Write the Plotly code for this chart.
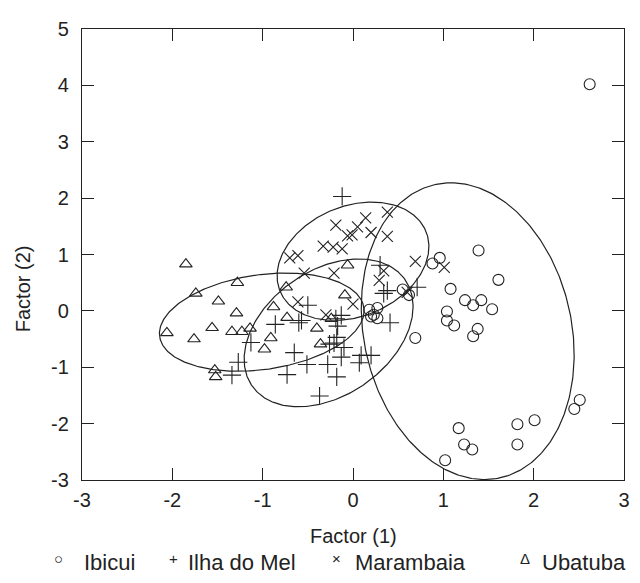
import numpy as np
import plotly.graph_objects as go

groups = ["Ibicui", "Ilha do Mel", "Marambaia", "Ubatuba"]
legend_glyphs = ["\u25CB", "+", "\u00D7", "\u0394"]

ibicui_x = [2.62, 1.39, 0.96, 0.88, 1.61, 1.08, 1.24, 1.33, 1.42, 1.54, 1.04, 1.04, 1.12, 1.38, 1.33, 0.69,
            0.55, 0.62, 0.18, 0.27, 0.23, 0.27, 0.20, 2.51, 2.45, 2.01, 1.82, 1.82, 1.17, 1.23, 1.32, 1.02]
ibicui_y = [4.02, 1.07, 0.94, 0.84, 0.55, 0.39, 0.19, 0.10, 0.19, 0.03, -0.01, -0.17, -0.26, -0.32, -0.45, -0.48,
            0.38, 0.28, 0.02, 0.05, -0.07, -0.13, -0.10, -1.58, -1.74, -1.94, -2.01, -2.37, -2.08, -2.37, -2.46, -2.65]

ilha_x = [-0.12, 0.30, 0.38, 0.34, 0.71, 0.41, -0.50, -0.13, -0.17, -0.18, -0.26, -0.10, -0.13, 0.09, 0.20,
          0.07, -0.28, -0.18, -0.37, -0.51, -0.65, -0.73, -0.86, -0.57, -0.60, -1.13, -1.27, -1.34, -0.21, -0.19]
ilha_y = [2.03, 0.81, 0.36, 0.31, 0.42, -0.21, 0.10, -0.08, -0.27, -0.47, -0.59, -0.65, -0.82, -0.79, -0.79,
          -0.92, -0.95, -1.17, -1.51, -0.95, -0.74, -1.13, -0.24, -0.17, -0.21, -0.56, -0.91, -1.14, -0.57, -0.14]

maramb_x = [0.14, 0.38, -0.19, 0.05, 0.20, -0.06, 0.38, -0.33, -0.22, -0.12, -0.70, -0.61, 0.69, 0.34, 0.29,
            -0.21, -0.54, -0.61, -0.30, -0.01, 1.01, 0.00, 0.60]
maramb_y = [1.65, 1.75, 1.52, 1.49, 1.39, 1.33, 1.32, 1.15, 1.13, 1.10, 0.94, 0.98, 0.88, 0.71, 0.54,
            0.67, 0.67, 0.16, -0.07, 1.35, 0.77, 0.12, 0.33]

ubat_x = [-1.85, -1.28, -1.74, -1.49, -1.29, -2.06, -1.76, -1.56, -1.34, -1.23, -1.14, -1.53, -1.52, -0.98,
          -0.91, -0.88, -0.74, -0.73, -0.40, -0.36, -0.06, -0.09, -0.24]
ubat_y = [0.83, 0.50, 0.31, 0.17, -0.04, -0.39, -0.50, -0.30, -0.37, -0.37, -0.31, -1.05, -1.17, -0.68,
          -0.48, 0.07, 0.42, -0.12, -0.31, -0.59, 0.81, 0.28, -0.14]

# ellipse parameters (centre, semi-axes, rotation in degrees) per group
ell_cx = [1.27, -0.27, 0.00, -1.01]
ell_cy = [-0.36, -0.39, 0.88, -0.20]
ell_a = [2.64, 1.38, 1.095, 1.17]
ell_b = [1.16, 0.83, 0.78, 0.82]
ell_angle = [95, 67, 66, 20.5]

x_ticks = [-3, -2, -1, 0, 1, 2, 3]
y_ticks = [-3, -2, -1, 0, 1, 2, 3, 4, 5]
x_title = "Factor (1)"
y_title = "Factor (2)"

FONT = "Liberation Sans, Arial, sans-serif"
INK = "#222222"

xs = [ibicui_x, ilha_x, maramb_x, ubat_x]
ys = [ibicui_y, ilha_y, maramb_y, ubat_y]
symbols = ["circle-open", "cross-thin-open", "x-thin-open", "triangle-up-open"]
sizes = [11, 13, 11, 11]

fig = go.Figure()
for i, g in enumerate(groups):
    t = np.linspace(0, 2 * np.pi, 361)
    th = np.radians(ell_angle[i])
    ex = ell_cx[i] + ell_a[i] * np.cos(th) * np.cos(t) - ell_b[i] * np.sin(th) * np.sin(t)
    ey = ell_cy[i] + ell_a[i] * np.sin(th) * np.cos(t) + ell_b[i] * np.cos(th) * np.sin(t)
    fig.add_trace(go.Scatter(x=ex, y=ey, mode="lines", line=dict(color=INK, width=1.2),
                             showlegend=False, hoverinfo="skip"))

for i, g in enumerate(groups):
    fig.add_trace(go.Scatter(x=xs[i], y=ys[i], mode="markers", name=g,
                             marker=dict(symbol=symbols[i], size=sizes[i], color=INK,
                                         line=dict(color=INK, width=1.1)),
                             showlegend=False))

# the page body has an 8px default margin, so the figure is drawn 8px smaller
OFF = 8
W, H = 640 - OFF, 583 - OFF
L, T = 82 - OFF, 18 - OFF
R = W - (629 - OFF)
B = H - (480 - OFF)
pw, ph = W - L - R, H - T - B

def px_to_paper_x(px):
    return (px - OFF - L) / pw

def py_to_paper_y(py):
    return (H - B - (py - OFF)) / ph

annotations = []
sym_px = [58, 174, 339, 529]
txt_px = [82, 187, 356, 544]
for i, g in enumerate(groups):
    annotations.append(dict(x=px_to_paper_x(sym_px[i]), y=py_to_paper_y(560), xref="paper", yref="paper",
                            text=legend_glyphs[i], showarrow=False, xanchor="center", yanchor="middle",
                            font=dict(family=FONT, size=15, color=INK)))
    annotations.append(dict(x=px_to_paper_x(txt_px[i]), y=py_to_paper_y(564), xref="paper", yref="paper",
                            text=g, showarrow=False, xanchor="left", yanchor="middle",
                            font=dict(family=FONT, size=22, color=INK)))
annotations.append(dict(x=0.5, y=py_to_paper_y(537), xref="paper", yref="paper", text=x_title,
                        showarrow=False, xanchor="center", yanchor="middle",
                        font=dict(family=FONT, size=20, color=INK)))
annotations.append(dict(x=px_to_paper_x(22), y=py_to_paper_y(284), xref="paper", yref="paper", text=y_title,
                        showarrow=False, xanchor="center", yanchor="middle", textangle=-90,
                        font=dict(family=FONT, size=20, color=INK)))

axis_common = dict(showgrid=False, zeroline=False, showline=True, linecolor=INK, linewidth=1.2,
                   mirror="ticks", ticks="inside", ticklen=12, tickcolor=INK, tickwidth=1.2,
                   tickfont=dict(family=FONT, size=20, color=INK))

fig.update_layout(
    width=W, height=H,
    margin=dict(l=L, r=R, t=T, b=B),
    paper_bgcolor="white", plot_bgcolor="white",
    showlegend=False,
    xaxis=dict(range=[-3, 3], tickvals=x_ticks, ticktext=[str(v) for v in x_ticks],
               ticklabelstandoff=2, **axis_common),
    yaxis=dict(range=[-3, 5], tickvals=y_ticks, ticktext=[str(v) for v in y_ticks],
               ticklabelstandoff=8, **axis_common),
    annotations=annotations,
)

fig.write_html("out.html")
